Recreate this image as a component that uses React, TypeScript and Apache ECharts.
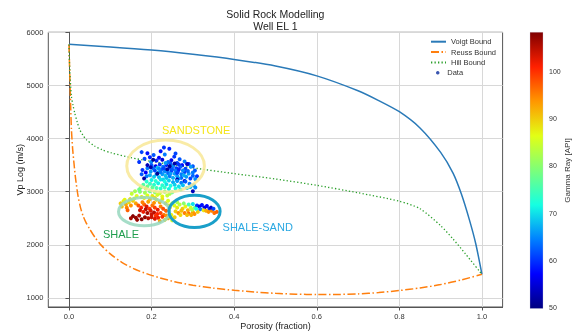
import React, { useEffect, useRef } from "react";
import * as echarts from "echarts";

const FONT = "'Liberation Sans', Arial, sans-serif";

// tick labels
const xTicks = [0, 0.2, 0.4, 0.6, 0.8, 1.0];
const yTicks = [1000, 2000, 3000, 4000, 5000, 6000];
const grTicks = [50, 60, 70, 80, 90, 100];

// model bounds: [porosity, Vp]
const voigt: [number, number][] = [
  [0, 5775], [0.1, 5725], [0.2, 5665], [0.3, 5585], [0.4, 5490], [0.5, 5365], [0.6, 5180],
  [0.7, 4900], [0.75, 4715], [0.8, 4505], [0.85, 4200], [0.9, 3740], [0.93, 3350],
  [0.95, 2960], [0.97, 2460], [0.985, 2020], [1.0, 1445],
];
const reuss: [number, number][] = [
  [0, 5770], [0.002, 5200], [0.004, 4650], [0.006, 4170], [0.009, 3800], [0.012, 3550],
  [0.016, 3250], [0.022, 2920], [0.028, 2700], [0.034, 2550], [0.042, 2410], [0.05, 2300],
  [0.063, 2140], [0.079, 1985], [0.1, 1830], [0.127, 1675], [0.16, 1540], [0.2, 1425],
  [0.256, 1305], [0.3, 1240], [0.35, 1185], [0.4, 1145], [0.45, 1112], [0.5, 1088],
  [0.55, 1072], [0.6, 1065], [0.65, 1066], [0.7, 1077], [0.75, 1102], [0.8, 1140],
  [0.85, 1188], [0.9, 1252], [0.95, 1340], [1.0, 1445],
];
const hill: [number, number][] = [
  [0, 5770], [0.002, 5300], [0.006, 4790], [0.01, 4620], [0.014, 4480], [0.02, 4310],
  [0.026, 4170], [0.034, 4060], [0.042, 3980], [0.062, 3860], [0.08, 3790], [0.103, 3730],
  [0.15, 3640], [0.2, 3570], [0.3, 3450], [0.4, 3340], [0.5, 3240], [0.6, 3120],
  [0.7, 2980], [0.8, 2820], [0.85, 2680], [0.9, 2360], [0.93, 2110], [0.96, 1830],
  [1.0, 1445],
];

// well data: [porosity, Vp, gamma ray]
const sandstoneData: [number, number, number][] = [
  [0.230, 3830, 60], [0.243, 3810, 59], [0.176, 3745, 61], [0.190, 3725, 58], [0.205, 3690, 62],
  [0.218, 3640, 57], [0.232, 3700, 64], [0.255, 3660, 60], [0.268, 3610, 62], [0.248, 3590, 56],
  [0.212, 3585, 59], [0.199, 3560, 65], [0.183, 3620, 61], [0.240, 3560, 63], [0.262, 3540, 61],
  [0.226, 3600, 55], [0.280, 3570, 64], [0.290, 3520, 60], [0.196, 3650, 59], [0.274, 3500, 58],
  [0.300, 3480, 62], [0.170, 3560, 60], [0.258, 3720, 61], [0.222, 3760, 58],
  [0.200, 3500, 62], [0.210, 3480, 56], [0.220, 3510, 60], [0.228, 3470, 64], [0.236, 3500, 59],
  [0.244, 3450, 61], [0.252, 3480, 65], [0.260, 3440, 60], [0.270, 3470, 63], [0.282, 3430, 61],
  [0.295, 3470, 66], [0.305, 3400, 62], [0.190, 3440, 64], [0.178, 3410, 60], [0.186, 3360, 57],
  [0.198, 3380, 66], [0.208, 3400, 61], [0.216, 3360, 67], [0.224, 3420, 62], [0.232, 3380, 65],
  [0.240, 3350, 63], [0.248, 3390, 60], [0.256, 3340, 66], [0.264, 3380, 62], [0.272, 3330, 64],
  [0.280, 3370, 61], [0.290, 3340, 66], [0.300, 3300, 63], [0.310, 3290, 60], [0.214, 3450, 68],
  [0.226, 3330, 66], [0.234, 3300, 68], [0.244, 3290, 64], [0.252, 3260, 67], [0.262, 3290, 66],
  [0.272, 3260, 63], [0.284, 3280, 66], [0.294, 3250, 61], [0.196, 3310, 67], [0.206, 3280, 69],
  [0.218, 3270, 68], [0.188, 3290, 64], [0.176, 3330, 62],
  [0.204, 3440, 63], [0.218, 3430, 65], [0.230, 3440, 61], [0.238, 3410, 66], [0.250, 3420, 62],
  [0.258, 3400, 64], [0.266, 3420, 59], [0.276, 3400, 65], [0.288, 3390, 63], [0.222, 3370, 64],
  [0.246, 3340, 66], [0.262, 3350, 61], [0.278, 3310, 67], [0.236, 3260, 68], [0.228, 3230, 69],
  [0.266, 3250, 66], [0.212, 3330, 66], [0.300, 3360, 64], [0.306, 3240, 65], [0.246, 3530, 62],
  [0.234, 3540, 66], [0.266, 3510, 60],
  [0.182, 3250, 52], [0.214, 3340, 51], [0.262, 3230, 53], [0.238, 3420, 52], [0.286, 3520, 54],
  [0.204, 3600, 51], [0.256, 3530, 52], [0.300, 3010, 53], [0.198, 3460, 52], [0.244, 3480, 51],
  [0.280, 3200, 54], [0.190, 3500, 53],
  [0.200, 3220, 71], [0.210, 3200, 73], [0.222, 3230, 70], [0.232, 3190, 72], [0.242, 3210, 69],
  [0.252, 3180, 67], [0.262, 3200, 66], [0.272, 3170, 64], [0.282, 3190, 62], [0.292, 3150, 64],
  [0.302, 3120, 67], [0.306, 3080, 65], [0.294, 3090, 68], [0.196, 3150, 74], [0.206, 3130, 73],
  [0.216, 3160, 71], [0.226, 3120, 73], [0.236, 3140, 70], [0.246, 3110, 72], [0.256, 3130, 69],
  [0.266, 3100, 70], [0.276, 3120, 68], [0.286, 3070, 69], [0.188, 3190, 73], [0.180, 3130, 76],
  [0.212, 3070, 75], [0.222, 3060, 73], [0.232, 3080, 74], [0.242, 3050, 71], [0.258, 3060, 72],
  [0.270, 3040, 71], [0.190, 3100, 78], [0.202, 3080, 77], [0.186, 3060, 80], [0.174, 3080, 79],
  [0.172, 3000, 80], [0.184, 2980, 82], [0.196, 3010, 78], [0.208, 2990, 80], [0.220, 2970, 84],
  [0.232, 3000, 79], [0.244, 2960, 82], [0.190, 2930, 86], [0.202, 2920, 88], [0.214, 2940, 85],
  [0.226, 2910, 87], [0.238, 2930, 84], [0.176, 2900, 88], [0.164, 2920, 86], [0.250, 2990, 77],
  [0.170, 3040, 78], [0.160, 3010, 82], [0.182, 2880, 87], [0.208, 2880, 89], [0.152, 2960, 84],
];
const shaleData: [number, number, number][] = [
  [0.125, 2780, 90], [0.132, 2820, 88], [0.138, 2760, 92], [0.145, 2800, 89], [0.150, 2740, 94],
  [0.128, 2720, 91], [0.140, 2700, 95], [0.155, 2830, 90], [0.162, 2780, 93], [0.135, 2850, 87],
  [0.148, 2860, 89], [0.158, 2870, 86], [0.142, 2650, 97],
  [0.168, 2740, 98], [0.175, 2700, 101], [0.182, 2760, 97], [0.188, 2720, 103], [0.195, 2680, 100],
  [0.202, 2740, 96], [0.208, 2700, 99], [0.215, 2660, 102], [0.222, 2720, 95], [0.228, 2680, 98],
  [0.235, 2640, 97], [0.172, 2650, 104], [0.180, 2620, 102], [0.190, 2600, 106], [0.198, 2640, 103],
  [0.206, 2610, 105], [0.214, 2580, 101], [0.222, 2600, 99], [0.230, 2560, 96], [0.186, 2670, 105],
  [0.200, 2570, 104], [0.210, 2550, 100], [0.178, 2800, 95], [0.192, 2810, 93], [0.206, 2790, 94],
  [0.220, 2800, 92], [0.234, 2780, 90], [0.242, 2740, 88], [0.244, 2700, 91], [0.196, 2860, 91],
  [0.212, 2850, 89], [0.226, 2860, 88], [0.240, 2830, 86],
  [0.155, 2540, 108], [0.162, 2510, 107], [0.170, 2550, 106], [0.176, 2480, 108], [0.184, 2520, 107],
  [0.192, 2500, 105], [0.165, 2470, 107], [0.150, 2500, 106], [0.200, 2520, 104], [0.208, 2490, 103],
  [0.216, 2510, 102], [0.226, 2530, 100], [0.236, 2550, 94], [0.240, 2500, 92], [0.246, 2520, 88],
  [0.220, 2450, 93], [0.232, 2470, 89], [0.250, 2460, 85],
];
const shaleSandData: [number, number, number][] = [
  [0.255, 2740, 86], [0.262, 2700, 88], [0.268, 2760, 84], [0.275, 2680, 90], [0.282, 2720, 87],
  [0.288, 2650, 92], [0.295, 2700, 85], [0.300, 2620, 93], [0.258, 2630, 90], [0.265, 2600, 94],
  [0.272, 2640, 91], [0.280, 2600, 95], [0.290, 2590, 96], [0.298, 2660, 83], [0.305, 2700, 78],
  [0.310, 2740, 60], [0.316, 2720, 56], [0.322, 2750, 58], [0.328, 2700, 55], [0.334, 2730, 57],
  [0.340, 2680, 59], [0.318, 2670, 64], [0.326, 2650, 88], [0.332, 2640, 92], [0.338, 2620, 94],
  [0.346, 2640, 95], [0.352, 2600, 96], [0.312, 2620, 90], [0.304, 2580, 94], [0.296, 2560, 92],
  [0.286, 2560, 91], [0.270, 2560, 89], [0.278, 2780, 80], [0.290, 2760, 75], [0.300, 2770, 70],
  [0.262, 2800, 82], [0.250, 2780, 84], [0.308, 2680, 72], [0.344, 2700, 54], [0.350, 2680, 61],
  [0.358, 2620, 97], [0.248, 2560, 87], [0.256, 2520, 90],
];

// interpreted zones: ellipse centre / semi-axes in data units, label anchor
const zoneNames = ["SANDSTONE", "SHALE", "SHALE-SAND"];
const zoneCenters: [number, number][] = [[0.234, 3483], [0.182, 2625], [0.304, 2631]];
const zoneRadii: [number, number][] = [[0.094, 490], [0.062, 266], [0.062, 303]];
const zoneLabels: [number, number][] = [[0.308, 4170], [0.126, 2204], [0.457, 2335]];

// colour range of the gamma-ray bar
const grRange = [49.8, 108.3];

const JET = ["#000080", "#0000ff", "#0080ff", "#15ffe2", "#7cff7a", "#e2ff15", "#ff9700", "#ff2000", "#800000"];
const ZONE_STROKE = ["rgba(248,232,150,0.85)", "rgba(150,215,190,0.85)", "#1a9fc9"];
const ZONE_TEXT = ["#f5e61a", "#1f9e4e", "#2aa8e2"];

const G = { left: 48.3, top: 32.3, width: 454.3, height: 276.2 };
const CB = { left: 530, top: 32.3, width: 13, height: 276.2 };

export default function App() {
  const ref = useRef<HTMLDivElement>(null);
  useEffect(() => {
    if (!ref.current) return;
    const chart = echarts.init(ref.current, null, { renderer: "svg" });
    const allData = [...sandstoneData, ...shaleData, ...shaleSandData];
    const zoneData = zoneNames.map((n, i) => [
      zoneCenters[i][0], zoneCenters[i][1], zoneRadii[i][0], zoneRadii[i][1],
      zoneLabels[i][0], zoneLabels[i][1],
    ]);
    const axisText = { fontFamily: FONT, color: "#333" };
    const legendText = { fontSize: 7.5, color: "#333", lineHeight: 9, fontFamily: FONT };
    chart.setOption({
      animation: false,
      textStyle: { fontFamily: FONT },
      title: {
        text: "Solid Rock Modelling\nWell EL 1",
        left: 275.4,
        top: 7.5,
        padding: 0,
        textAlign: "center",
        textStyle: { fontSize: 10.5, fontWeight: "normal", color: "#222", lineHeight: 12.5, fontFamily: FONT },
      },
      legend: [
        {
          data: ["Voigt Bound", "Reuss Bound", "Hill Bound"],
          orient: "vertical",
          left: 430,
          top: 37.2,
          padding: 0,
          itemWidth: 15,
          itemHeight: 9,
          itemGap: 1.4,
          itemStyle: { opacity: 0 },
          textStyle: legendText,
        },
        {
          data: [{ name: "Data", icon: "circle" }],
          orient: "vertical",
          left: 436,
          top: 68.2,
          padding: 0,
          itemWidth: 9,
          itemHeight: 3.5,
          textStyle: legendText,
        },
      ],
      grid: [
        { ...G, show: true, borderColor: "#555", borderWidth: 1 },
        { ...CB, show: false },
      ],
      xAxis: [
        {
          type: "value",
          gridIndex: 0,
          min: -0.05,
          max: 1.05,
          name: "Porosity (fraction)",
          nameLocation: "middle",
          nameGap: 14,
          nameMoveOverlap: false,
          nameTextStyle: { fontSize: 9, color: "#222", fontFamily: FONT },
          axisLine: { show: true, lineStyle: { color: "#555" } },
          axisTick: { show: true, customValues: xTicks, length: 3.5, lineStyle: { color: "#555" } },
          axisLabel: { customValues: xTicks, formatter: (v: number) => v.toFixed(1), fontSize: 7.5, margin: 5, ...axisText },
          splitLine: { show: true, lineStyle: { color: "#d8d8d8", width: 1 } },
        },
        { type: "value", gridIndex: 1, min: 0, max: 1, show: false },
      ],
      yAxis: [
        {
          type: "value",
          gridIndex: 0,
          min: 830,
          max: 6000,
          name: "Vp Log (m/s)",
          nameLocation: "middle",
          nameGap: 24,
          nameMoveOverlap: false,
          nameTextStyle: { fontSize: 9, color: "#222", fontFamily: FONT },
          axisLine: { show: true, lineStyle: { color: "#555" } },
          axisTick: { show: true, customValues: yTicks, length: 3.5, lineStyle: { color: "#555" } },
          axisLabel: { customValues: yTicks, formatter: (v: number) => String(v), fontSize: 7.5, margin: 5, ...axisText },
          splitLine: { show: true, lineStyle: { color: "#d8d8d8", width: 1 } },
        },
        {
          type: "value",
          gridIndex: 1,
          position: "right",
          min: grRange[0],
          max: grRange[1],
          name: "Gamma Ray [API]",
          nameLocation: "middle",
          nameRotate: 90,
          nameGap: 20,
          nameMoveOverlap: false,
          nameTextStyle: { fontSize: 8, color: "#333", fontFamily: FONT },
          axisLine: { show: false },
          axisTick: { show: false, customValues: grTicks },
          axisLabel: { customValues: grTicks, formatter: (v: number) => String(v), fontSize: 7, margin: 6, ...axisText },
          splitLine: { show: false },
        },
      ],
      visualMap: {
        show: false,
        type: "continuous",
        seriesIndex: 3,
        dimension: 2,
        min: grRange[0],
        max: grRange[1],
        inRange: { color: JET },
      },
      graphic: [
        {
          type: "rect",
          shape: { x: CB.left, y: CB.top, width: CB.width, height: CB.height },
          style: {
            fill: new echarts.graphic.LinearGradient(0, 1, 0, 0, JET.map((c, i) => ({ offset: i / (JET.length - 1), color: c }))),
            stroke: "rgba(200,200,220,0.6)",
            lineWidth: 0.5,
          },
          z: 10,
        },
      ],
      series: [
        {
          name: "Voigt Bound",
          type: "line",
          data: voigt,
          symbol: "none",
          smooth: 0.25,
          lineStyle: { color: "#2a7ab8", width: 1.5 },
          itemStyle: { color: "#2a7ab8" },
          z: 2,
        },
        {
          name: "Reuss Bound",
          type: "line",
          data: reuss,
          symbol: "none",
          smooth: 0.25,
          lineStyle: { color: "#ff7f0e", width: 1.5, type: [8, 2.5, 1.5, 2.5] },
          itemStyle: { color: "#ff7f0e" },
          z: 2,
        },
        {
          name: "Hill Bound",
          type: "line",
          data: hill,
          symbol: "none",
          smooth: 0.25,
          lineStyle: { color: "#2ca02c", width: 1.3, type: [1.3, 2.2] },
          itemStyle: { color: "#2ca02c" },
          z: 2,
        },
        {
          name: "Data",
          type: "scatter",
          data: allData,
          symbolSize: 4,
          itemStyle: { color: "#3a56b0", opacity: 1 },
          z: 3,
        },
        {
          name: "zones",
          type: "custom",
          data: zoneData,
          clip: false,
          z: 4,
          encode: { x: 0, y: 1 },
          renderItem: (params: any, api: any) => {
            const i = params.dataIndex;
            const c = api.coord([api.value(0), api.value(1)]);
            const e = api.coord([api.value(0) + api.value(2), api.value(1) + api.value(3)]);
            const l = api.coord([api.value(4), api.value(5)]);
            return {
              type: "group",
              children: [
                {
                  type: "ellipse",
                  shape: { cx: c[0], cy: c[1], rx: Math.abs(e[0] - c[0]), ry: Math.abs(e[1] - c[1]) },
                  style: { fill: "none", stroke: ZONE_STROKE[i], lineWidth: 3 },
                },
                {
                  type: "text",
                  x: l[0],
                  y: l[1],
                  style: {
                    text: zoneNames[i],
                    fill: ZONE_TEXT[i],
                    font: `11px ${FONT}`,
                    align: "center",
                    verticalAlign: "middle",
                  },
                },
              ],
            };
          },
        },
      ],
    });
    return () => chart.dispose();
  }, []);
  return <div ref={ref} style={{ position: "fixed", left: 0, top: 0, width: 580, height: 335 }} />;
}
